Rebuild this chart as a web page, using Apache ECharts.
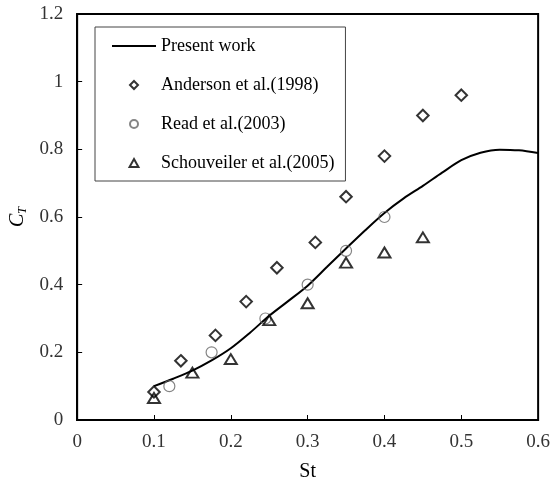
<!DOCTYPE html>
<html>
<head>
<meta charset="utf-8">
<script src="https://cdn.jsdelivr.net/npm/echarts@6/dist/echarts.min.js"></script>
<style>html,body{margin:0;padding:0;background:#fff}#c{width:553px;height:487px}</style>
</head>
<body>
<div id="c"></div>
<script>
var presentWork = [[0.1,0.10],[0.125,0.122],[0.15,0.146],[0.175,0.176],[0.2,0.212],[0.225,0.258],[0.25,0.308],[0.275,0.352],[0.3,0.397],[0.325,0.452],[0.35,0.507],[0.375,0.561],[0.4,0.612],[0.425,0.655],[0.45,0.692],[0.475,0.731],[0.5,0.768],[0.525,0.79],[0.55,0.799],[0.575,0.797],[0.6,0.789]];
var anderson = [[0.1,0.083],[0.135,0.175],[0.18,0.25],[0.22,0.35],[0.26,0.45],[0.31,0.525],[0.35,0.66],[0.4,0.78],[0.45,0.9],[0.5,0.96]];
var read = [[0.12,0.10],[0.175,0.20],[0.245,0.30],[0.3,0.40],[0.35,0.50],[0.4,0.60]];
var schouveiler = [[0.1,0.065],[0.15,0.14],[0.2,0.18],[0.25,0.295],[0.3,0.345],[0.35,0.465],[0.4,0.495],[0.45,0.54]];
var seriesNames = ['Present work','Anderson et al.(1998)','Read et al.(2003)','Schouveiler et al.(2005)'];

var font = 'Liberation Serif';
var diamondPath = 'path://M5,0 L10,5 L5,10 L0,5 Z';
var trianglePath = 'path://M5,0 L10,9 L0,9 Z';
var chart = echarts.init(document.getElementById('c'));
chart.setOption({
  animation: false,
  backgroundColor: '#fff',
  grid: {left: 77, right: 14, top: 14, bottom: 66, show: true, borderColor: '#000', borderWidth: 2},
  legend: {
    orient: 'vertical', left: 95, top: 27,
    data: [
      {name: seriesNames[0], itemStyle: {color: 'rgba(0,0,0,0)', borderWidth: 0, opacity: 0}},
      {name: seriesNames[1]},
      {name: seriesNames[2]},
      {name: seriesNames[3]}
    ],
    itemWidth: 44, itemHeight: 8, itemGap: 21,
    padding: [10, 11, 9, 16],
    borderColor: '#444', borderWidth: 1,
    textStyle: {fontFamily: font, fontSize: 18, color: '#000', lineHeight: 16}
  },
  xAxis: {
    type: 'value', min: 0, max: 0.6, interval: 0.1,
    name: 'St', nameLocation: 'middle', nameGap: 42,
    nameTextStyle: {fontFamily: font, fontSize: 20, color: '#000'},
    axisLine: {lineStyle: {color: '#000', width: 2}},
    axisTick: {inside: true, length: 5, lineStyle: {color: '#000', width: 1}},
    axisLabel: {fontFamily: font, fontSize: 19, color: '#333', margin: 13},
    splitLine: {show: false}
  },
  yAxis: {
    type: 'value', min: 0, max: 1.2, interval: 0.2,
    name: '{c|C}{s|T}', nameLocation: 'middle', nameGap: 45, nameRotate: 90,
    nameTextStyle: {rich: {
      c: {fontFamily: font, fontStyle: 'italic', fontSize: 20, color: '#000'},
      s: {fontFamily: font, fontStyle: 'italic', fontSize: 12, color: '#000', verticalAlign: 'bottom', padding: [9,0,0,0]}
    }},
    axisLine: {lineStyle: {color: '#000', width: 2}},
    axisTick: {inside: true, length: 5, lineStyle: {color: '#000', width: 1}},
    axisLabel: {fontFamily: font, fontSize: 19, color: '#333', margin: 14},
    splitLine: {show: false}
  },
  series: [
    {name: seriesNames[0], type: 'line', data: presentWork, smooth: 0.3, symbol: 'none',
     lineStyle: {color: '#000', width: 2}, itemStyle: {color: '#000'}, z: 3},
    {name: seriesNames[1], type: 'scatter', data: anderson, symbol: diamondPath, symbolSize: 11.5, symbolKeepAspect: true,
     itemStyle: {color: '#fff', borderColor: '#000', borderWidth: 2}, z: 4},
    {name: seriesNames[2], type: 'scatter', data: read, symbol: 'circle', symbolSize: 11, symbolKeepAspect: true,
     itemStyle: {color: 'rgba(255,255,255,0)', borderColor: '#666', borderWidth: 1.2}, z: 4},
    {name: seriesNames[3], type: 'scatter', data: schouveiler, symbol: trianglePath, symbolSize: [12, 11], symbolKeepAspect: true,
     itemStyle: {color: 'rgba(255,255,255,0)', borderColor: '#000', borderWidth: 2}, z: 4}
  ]
});
</script>
</body>
</html>
